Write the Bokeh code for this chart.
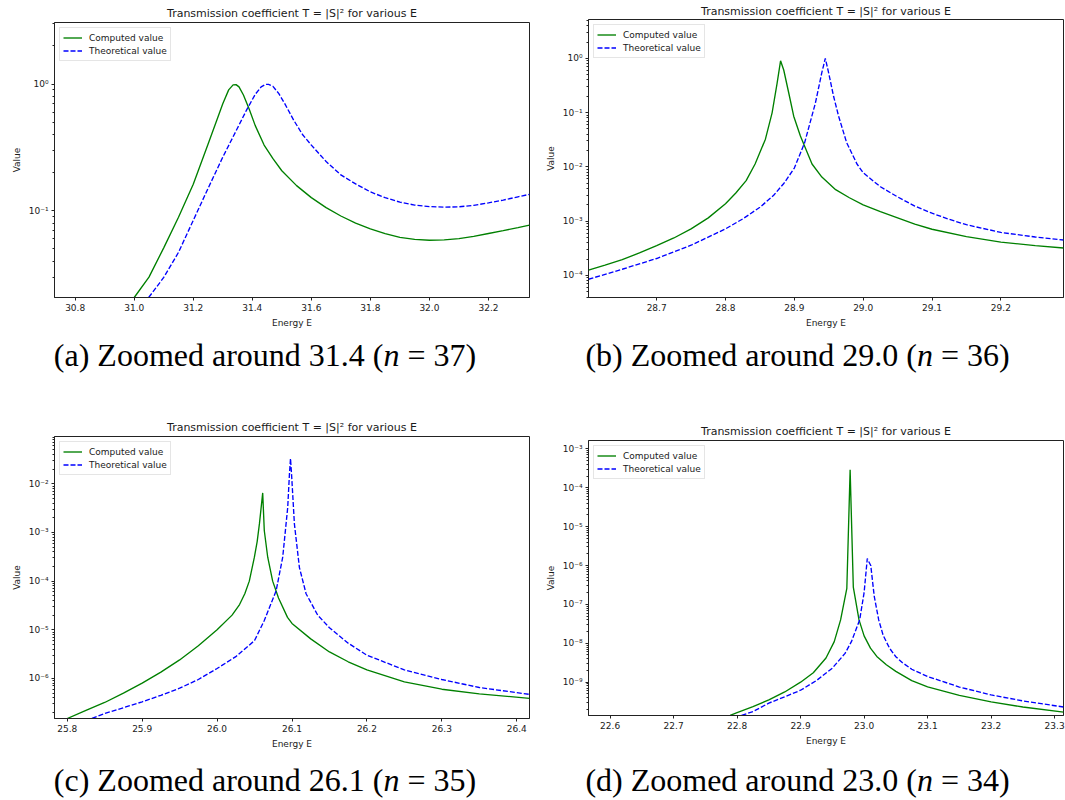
import numpy as np
from bokeh.plotting import figure
from bokeh.models import Range1d, FixedTicker, Div, PrintfTickFormatter, CustomJSTickFormatter
from bokeh.layouts import row, column
from bokeh.embed import file_html
from bokeh.resources import INLINE

TITLE = "Transmission coefficient T = |S|\u00b2 for various E"
X_LABEL = "Energy E"
Y_LABEL = "Value"
SERIES_NAMES = ["Computed value", "Theoretical value"]

# ---------------- panel (a): around 31.4, n = 37 ----------------
a_green_E = [31.0, 31.05, 31.1, 31.15, 31.2, 31.25, 31.28, 31.3, 31.32, 31.335, 31.345, 31.355, 31.37, 31.39,
             31.41, 31.44, 31.47, 31.5, 31.55, 31.6, 31.65, 31.7, 31.75, 31.8, 31.85, 31.9, 31.95,
             32.0, 32.05, 32.1, 32.15, 32.2, 32.25, 32.3, 32.339]
a_green_T = [0.0207, 0.030, 0.051, 0.089, 0.162, 0.335, 0.52, 0.70, 0.90, 0.985, 0.99, 0.95, 0.82, 0.63,
             0.47, 0.33, 0.258, 0.207, 0.158, 0.127, 0.106, 0.091, 0.080, 0.072, 0.066, 0.0618, 0.0595,
             0.0586, 0.0589, 0.0603, 0.0628, 0.0662, 0.0698, 0.0737, 0.077]
a_blue_E = [31.049, 31.1, 31.15, 31.2, 31.25, 31.3, 31.35, 31.38, 31.41, 31.43, 31.445, 31.455, 31.47, 31.49,
            31.51, 31.54, 31.57, 31.6, 31.65, 31.7, 31.75, 31.8, 31.85, 31.9, 31.95, 32.0, 32.05,
            32.1, 32.15, 32.2, 32.25, 32.3, 32.339]
a_blue_T = [0.0207, 0.0298, 0.047, 0.084, 0.150, 0.265, 0.45, 0.62, 0.83, 0.95, 0.995, 0.995, 0.96, 0.84,
            0.70, 0.52, 0.40, 0.33, 0.245, 0.192, 0.163, 0.141, 0.127, 0.117, 0.111, 0.108, 0.1068,
            0.1075, 0.1105, 0.1155, 0.1215, 0.129, 0.135]
a_xrange = (30.73, 32.339)
a_yrange = (0.0207, 3.06)
a_xticks = [30.8, 31.0, 31.2, 31.4, 31.6, 31.8, 32.0, 32.2]
a_yexps = [-1, 0]

# ---------------- panel (b): around 29.0, n = 36 ----------------
b_green_E = [28.601, 28.625, 28.65, 28.675, 28.7, 28.725, 28.75, 28.775, 28.8, 28.815, 28.83, 28.843,
             28.858, 28.8677, 28.875, 28.880, 28.8846, 28.8919, 28.8991, 28.9088, 28.9257, 28.94,
             28.96, 28.98, 29.0, 29.025, 29.05, 29.075, 29.1, 29.15, 29.2, 29.25, 29.291]
b_green_T = [1.25e-4, 1.55e-4, 1.95e-4, 2.6e-4, 3.55e-4, 4.9e-4, 7.2e-4, 1.15e-3, 2.1e-3, 3.3e-3, 5.6e-3, 1.13e-2,
             3.24e-2, 9.9e-2, 0.35, 0.9, 0.61, 0.23, 8.6e-2, 3.7e-2, 1.13e-2, 6.5e-3,
             3.8e-3, 2.7e-3, 2.0e-3, 1.5e-3, 1.15e-3, 8.8e-4, 7.1e-4, 5.2e-4, 4.1e-4, 3.55e-4, 3.2e-4]
b_blue_E = [28.601, 28.65, 28.7, 28.75, 28.8, 28.825, 28.85, 28.87, 28.885, 28.9, 28.915, 28.9306,
            28.940, 28.945, 28.950, 28.957, 28.9643, 28.976, 28.991, 29.0, 29.025, 29.05, 29.075,
            29.1, 29.125, 29.15, 29.2, 29.25, 29.291]
b_blue_T = [8.5e-5, 1.3e-4, 2.05e-4, 3.6e-4, 7.2e-4, 1.1e-3, 1.8e-3, 3.0e-3, 5.0e-3, 9.5e-3, 2.8e-2, 0.15,
            0.55, 1.0, 0.53, 0.2, 8.6e-2, 2.8e-2, 1.13e-2, 7.8e-3, 4.3e-3, 2.8e-3, 1.9e-3,
            1.4e-3, 1.08e-3, 8.6e-4, 6.2e-4, 5.1e-4, 4.5e-4]
b_xrange = (28.601, 29.291)
b_yrange = (3.92e-5, 5.2)
b_xticks = [28.7, 28.8, 28.9, 29.0, 29.1, 29.2]
b_yexps = [-4, -3, -2, -1, 0]

# ---------------- panel (c): around 26.1, n = 35 ----------------
c_green_E = [25.800, 25.825, 25.850, 25.875, 25.900, 25.925, 25.950, 25.975, 26.000, 26.020, 26.030,
             26.037, 26.043, 26.0498, 26.0535, 26.0565, 26.0609, 26.063, 26.0676, 26.0742, 26.082,
             26.094, 26.100, 26.125, 26.150, 26.175, 26.200, 26.250, 26.300, 26.350, 26.417]
c_green_T = [1.5e-7, 2.2e-7, 3.2e-7, 5.0e-7, 8.0e-7, 1.35e-6, 2.4e-6, 4.7e-6, 1.0e-5, 2.0e-5, 3.3e-5,
             5.5e-5, 1.0e-4, 3.1e-4, 6.5e-4, 1.5e-3, 6.5e-3, 1.1e-3, 3.1e-4, 1.0e-4, 4.5e-5,
             1.8e-5, 1.35e-5, 6.5e-6, 3.5e-6, 2.2e-6, 1.5e-6, 8.5e-7, 6.0e-7, 4.8e-7, 3.9e-7]
c_blue_E = [25.833, 25.850, 25.875, 25.900, 25.925, 25.950, 25.975, 26.000, 26.025, 26.050, 26.063,
            26.0788, 26.0876, 26.0943, 26.0966, 26.098, 26.0996, 26.1032, 26.1099, 26.1188, 26.1343,
            26.150, 26.175, 26.200, 26.250, 26.300, 26.350, 26.417]
c_blue_T = [1.5e-7, 1.9e-7, 2.5e-7, 3.3e-7, 4.5e-7, 6.3e-7, 9.5e-7, 1.6e-6, 2.8e-6, 6.0e-6, 1.55e-5,
            6.3e-5, 3.1e-4, 3.3e-3, 1.6e-2, 3.3e-2, 1.4e-2, 1.5e-3, 1.9e-4, 5.5e-5, 2.0e-5,
            1.1e-5, 5.3e-6, 3.0e-6, 1.5e-6, 9.5e-7, 6.5e-7, 4.7e-7]
c_xrange = (25.783, 26.417)
c_yrange = (1.5e-7, 0.094)
c_xticks = [25.8, 25.9, 26.0, 26.1, 26.2, 26.3, 26.4]
c_yexps = [-6, -5, -4, -3, -2]

# ---------------- panel (d): around 23.0, n = 34 ----------------
d_green_E = [22.789, 22.8, 22.825, 22.85, 22.875, 22.9, 22.92, 22.94, 22.953, 22.963, 22.9728, 22.978,
             22.983, 22.992, 23.0, 23.01, 23.02, 23.035, 23.05, 23.075, 23.1, 23.15, 23.2, 23.25, 23.314]
d_green_T = [1.4e-10, 1.65e-10, 2.35e-10, 3.5e-10, 5.6e-10, 1.0e-9, 1.75e-9, 4.2e-9, 1.1e-8, 4.0e-8, 2.6e-7, 2.9e-4,
             2.8e-7, 4.0e-8, 1.55e-8, 7.5e-9, 4.6e-9, 2.8e-9, 1.9e-9, 1.1e-9, 7.6e-10, 4.6e-10, 3.1e-10, 2.3e-10, 1.7e-10]
d_blue_E = [22.807, 22.825, 22.85, 22.875, 22.9, 22.925, 22.95, 22.97, 22.98, 22.993, 23.0, 23.005,
            23.0105, 23.016, 23.023, 23.03, 23.04, 23.05, 23.06, 23.075, 23.1, 23.15, 23.2, 23.25, 23.314]
d_blue_T = [1.4e-10, 1.75e-10, 2.9e-10, 4.2e-10, 6.2e-10, 1.1e-9, 2.3e-9, 5.5e-9, 1.1e-8, 4.0e-8, 2.0e-7, 1.5e-6,
            1.0e-6, 1.6e-7, 4.0e-8, 1.6e-8, 7.5e-9, 4.5e-9, 3.2e-9, 2.15e-9, 1.4e-9, 7.5e-10, 4.7e-10, 3.3e-10, 2.3e-10]
d_xrange = (22.566, 23.314)
d_yrange = (1.39e-10, 1.64e-3)
d_xticks = [22.6, 22.7, 22.8, 22.9, 23.0, 23.1, 23.2, 23.3]
d_yexps = [-9, -8, -7, -6, -5, -4, -3]

# ---------------- captions ----------------
caption_tags = ["(a)", "(b)", "(c)", "(d)"]
caption_values = ["31.4", "29.0", "26.1", "23.0"]
caption_ns = [37, 36, 35, 34]

FONT = "DejaVu Sans"
TXT = "#1a1a1a"

sup_js = CustomJSTickFormatter(code="""
const sup = {'-':'\u207b','0':'\u2070','1':'\u00b9','2':'\u00b2','3':'\u00b3','4':'\u2074',
             '5':'\u2075','6':'\u2076','7':'\u2077','8':'\u2078','9':'\u2079'};
const e = Math.round(Math.log10(tick));
return '10' + String(e).split('').map(c => sup[c]).join('');
""")


def panel(w, h, borders, title_standoff, xr, yr, xticks, yexps, gE, gT, bE, bT):
    bl, br, bt, bb = borders
    p = figure(width=w, height=h, x_range=Range1d(*xr), y_range=Range1d(*yr),
               y_axis_type="log", output_backend="svg", toolbar_location=None,
               min_border_left=bl, min_border_right=br, min_border_top=bt, min_border_bottom=bb,
               background_fill_color="white", border_fill_color="white")
    p.title.text = TITLE
    p.title.align = "center"
    p.title.text_font = FONT
    p.title.text_font_size = "11px"
    p.title.text_font_style = "normal"
    p.title.text_color = TXT
    p.title.standoff = title_standoff

    p.line(gE, gT, line_color="#008000", line_width=1.35, legend_label=SERIES_NAMES[0])
    p.line(bE, bT, line_color="#0000ff", line_width=1.35, line_dash="5 2", legend_label=SERIES_NAMES[1])

    p.xaxis.ticker = FixedTicker(ticks=xticks)
    p.xaxis.formatter = PrintfTickFormatter(format="%.1f")
    majors = [10.0 ** e for e in yexps]
    lo_e = int(np.floor(np.log10(yr[0])))
    hi_e = int(np.ceil(np.log10(yr[1])))
    minors = [m * 10.0 ** k for k in range(lo_e, hi_e + 1) for m in range(2, 10)]
    p.yaxis.ticker = FixedTicker(ticks=majors, minor_ticks=minors)
    p.yaxis.formatter = sup_js

    p.xaxis.axis_label = X_LABEL
    p.yaxis.axis_label = Y_LABEL
    for ax in (p.xaxis[0], p.yaxis[0]):
        ax.axis_line_color = "#222222"
        ax.major_tick_line_color = "#222222"
        ax.minor_tick_line_color = "#222222"
        ax.major_tick_out = 3
        ax.major_tick_in = 0
        ax.minor_tick_out = 2
        ax.minor_tick_in = 0
        ax.major_label_text_font = FONT
        ax.major_label_text_font_size = "9px"
        ax.major_label_text_color = TXT
        ax.major_label_standoff = 3
        ax.axis_label_text_font = FONT
        ax.axis_label_text_font_size = "9px"
        ax.axis_label_text_font_style = "normal"
        ax.axis_label_text_color = TXT
        ax.axis_label_standoff = 4
    p.xaxis.minor_tick_line_color = None
    p.grid.grid_line_color = None
    p.outline_line_color = "#222222"
    p.outline_line_width = 1

    lg = p.legend[0]
    lg.location = "top_left"
    lg.margin = 5
    lg.padding = 3
    lg.spacing = 0
    lg.label_height = 13
    lg.glyph_height = 13
    lg.glyph_width = 19
    lg.label_standoff = 7
    lg.label_text_font = FONT
    lg.label_text_font_size = "9px"
    lg.label_text_color = TXT
    lg.border_line_color = "#cccccc"
    lg.border_line_width = 1
    lg.background_fill_alpha = 0.8
    return p


def caption(i, w, h, lh):
    txt = (f'<div style="width:{w}px; text-align:center; font-family:\'Liberation Serif\', serif; '
           f'font-size:32px; line-height:{lh}px; color:#000;">'
           f'{caption_tags[i]} Zoomed around {caption_values[i]} (<i>n</i> = {caption_ns[i]})</div>')
    return Div(text=txt, width=w, height=h, margin=(0, 0, 0, 0))


pa = panel(530, 330, (54, 1, 22, 33), 5, a_xrange, a_yrange, a_xticks, a_yexps,
           a_green_E, a_green_T, a_blue_E, a_blue_T)
pb = panel(535, 330, (58, 1, 17, 32), 4, b_xrange, b_yrange, b_xticks, b_yexps,
           b_green_E, b_green_T, b_blue_E, b_blue_T)
pc = panel(530, 355, (54, 1, 36, 37), 5, c_xrange, c_yrange, c_xticks, c_yexps,
           c_green_E, c_green_T, c_blue_E, c_blue_T)
pd = panel(535, 355, (58, 2, 40, 40), 5, d_xrange, d_yrange, d_xticks, d_yexps,
           d_green_E, d_green_T, d_blue_E, d_blue_T)

left_col = column(pa, caption(0, 530, 70, 51), pc, caption(2, 530, 45, 50), spacing=0)
right_col = column(pb, caption(1, 535, 70, 51), pd, caption(3, 535, 45, 50), spacing=0)
layout = row(left_col, right_col, spacing=0)

open("out.html", "w").write(file_html(layout, INLINE))
